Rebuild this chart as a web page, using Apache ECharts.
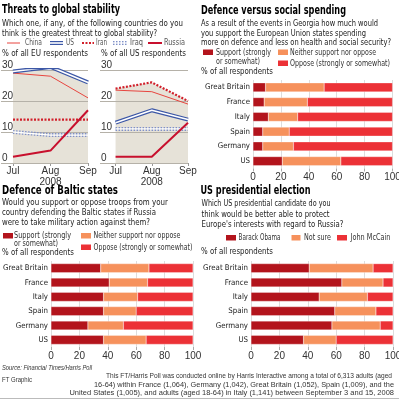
<!DOCTYPE html>
<html>
<head>
<meta charset="utf-8">
<script src="https://cdn.jsdelivr.net/npm/echarts@6/dist/echarts.min.js"></script>
<style>
  html, body { margin: 0; padding: 0; background: #fff; }
  #main { width: 399px; height: 400px; }
</style>
</head>
<body>
<div id="main"></div>
<script>
// line charts: % naming each country as greatest threat
var months = ["Jul", "Aug", "Sep"];
var year = "2008";
var euChina = [29, 28, 21];
var euUS = [29.5, 31, 26];
var euIran = [14, 14, 14];
var euIraq = [10, 9, 9];
var euRussia = [2, 4, 17];
var usChina = [23.5, 23, 19];
var usUS = [13, 17, 14];
var usIran = [24, 26, 20];
var usIraq = [11, 11, 11];
var usRussia = [2, 2, 13];

// bar charts
var countries = ["Great Britain", "France", "Italy", "Spain", "Germany", "US"];
var spendSupport = [9, 8, 11, 7, 7, 21];
var spendNeither = [42, 31, 21, 19, 22, 42];
var spendOppose = [49, 61, 68, 74, 71, 37];
var balticSupport = [35, 41, 37, 37, 26, 37];
var balticNeither = [34, 27, 24, 23, 25, 30];
var balticOppose = [31, 32, 39, 40, 49, 33];
var obama = [41, 64, 48, 59, 57, 37];
var notSure = [45, 29, 34, 29, 34, 23];
var mccain = [14, 7, 18, 12, 9, 40];

var COND = '"DejaVu Sans Condensed", sans-serif';
var SANS = '"Liberation Sans", Arial, sans-serif';
var DARK = "#b3141c", ORANGE = "#f6915c", RED = "#ec3136";
var BLUE = "#3c57a6", PALEBLUE = "#7f90c8", LRED = "#e8453f", FILL = "#e6e2d8";

// the original face is much narrower than anything installed, so texts get squeezed to width
var measureCtx = document.createElement("canvas").getContext("2d");
function textWidth(s, font) {
  measureCtx.font = font;
  return measureCtx.measureText(s).width;
}

var TITLE = { font: "bold 12px " + COND, color: "#000" };
var SUB = { font: "9.5px " + COND, color: "#222" };
var LEG = { font: "9px " + COND, color: "#333" };
var LLEG = { font: "9px " + COND, color: "#555" };
var NOTE = { font: "6.5px " + SANS, color: "#333" };
var SRC = { font: "italic 6.5px " + SANS, color: "#333" };

function txt(x, y, s, st, w, align) {
  var sx = w ? Math.min(1.15, w / textWidth(s, st.font)) : 1;
  return {
    type: "text", x: x, y: y, scaleX: sx, silent: true,
    style: { text: s, font: st.font, fill: st.color, align: align || "left", verticalAlign: "middle" }
  };
}
function rect(x, y, w, h, color) {
  return { type: "rect", shape: { x: x, y: y, width: w, height: h }, style: { fill: color }, silent: true };
}
function seg(x1, y1, x2, y2, style) {
  return { type: "line", shape: { x1: x1, y1: y1, x2: x2, y2: y2 }, style: style, silent: true };
}

// country labels: size chosen so "Great Britain" is about 45px wide
var catSize = Math.min(10, 45 / textWidth("Great Britain", "10px " + COND) * 10);

var chart = echarts.init(document.getElementById("main"));

function lineAxes(idx, min) {
  return {
    x: {
      gridIndex: idx, type: "value", min: min, max: 2,
      axisLine: { show: false }, splitLine: { show: false },
      axisTick: { show: true, customValues: [0, 1, 2], length: 3, lineStyle: { color: "#999" } },
      axisLabel: {
        customValues: [0, 1, 2], margin: 3, fontFamily: SANS, fontSize: 10, color: "#333", lineHeight: 11,
        formatter: function (v) { var m = months[Math.round(v)]; return v === 1 ? m + "\n" + year : m; }
      }
    },
    y: {
      gridIndex: idx, type: "value", min: 0, max: 30, interval: 10, z: 1.5,
      axisLine: { show: false }, axisTick: { show: false },
      splitLine: { lineStyle: { color: "#b5b1a8", width: 1 } },
      axisLabel: { inside: true, margin: 1, verticalAlign: "bottom", fontFamily: SANS, fontSize: 10, color: "#333" }
    }
  };
}

function lineSeries(idx, china, us, iran, iraq, russia, top) {
  var base = { type: "line", xAxisIndex: idx, yAxisIndex: idx, symbol: "none", silent: true };
  function s(data, ls, z, extra) {
    return Object.assign({}, base, { data: pts(data), lineStyle: ls, z: z }, extra || {});
  }
  return [
    s(top, { width: 0, opacity: 0 }, 1, { areaStyle: { color: FILL, opacity: 1 } }),
    s(iraq, { color: PALEBLUE, width: 4, type: [1.5, 1.5] }, 2),
    s(iraq, { color: "#fff", width: 1.3 }, 2.1),
    s(china, { color: LRED, width: 1 }, 2.2),
    s(us, { color: BLUE, width: 4 }, 2.3),
    s(us, { color: "#fff", width: 1.6 }, 2.4),
    s(iran, { color: "#d11f2a", width: 2.2, type: [2, 1.5] }, 2.5),
    s(russia, { color: "#c8102e", width: 2 }, 2.6)
  ];
}
function pts(arr) {
  return arr.map(function (v, i) { return [i, v]; });
}

function barAxes(idx) {
  return {
    x: {
      gridIndex: idx, type: "value", min: 0, max: 100, interval: 20,
      axisLine: { show: false },
      axisTick: { show: true, length: 3, lineStyle: { color: "#aaa" } },
      splitLine: { lineStyle: { color: "#ddd" } },
      axisLabel: { margin: 4, fontFamily: SANS, fontSize: 10, color: "#333" }
    },
    y: {
      gridIndex: idx, type: "category", data: countries, inverse: true,
      axisLine: { show: false }, axisTick: { show: false },
      axisLabel: { margin: 3, fontFamily: COND, fontSize: catSize, color: "#222" }
    }
  };
}

function barSeries(idx, a, b, c) {
  var st = "s" + idx;
  return [[a, DARK], [b, ORANGE], [c, RED]].map(function (p) {
    return {
      type: "bar", xAxisIndex: idx, yAxisIndex: idx, stack: st, barWidth: 9, silent: true,
      data: p[0], itemStyle: { color: p[1], borderColor: "#fff", borderWidth: 0.3 }
    };
  });
}

var la0 = lineAxes(0, -0.32), la1 = lineAxes(1, -0.43);
var ba2 = barAxes(2), ba3 = barAxes(3), ba4 = barAxes(4);

var graphics = [
  txt(2, 10, "Threats to global stability", TITLE, 118),
  txt(2, 24, "Which one, if any, of the following countries do you", SUB, 181),
  txt(2, 33.5, "think is the greatest threat to global stability?", SUB, 155),
  seg(7, 43, 20, 43, { stroke: LRED, lineWidth: 1 }),
  txt(25, 43, "China", LLEG, 17),
  seg(50, 43, 63, 43, { stroke: BLUE, lineWidth: 4 }),
  seg(50, 43, 63, 43, { stroke: "#fff", lineWidth: 1.6 }),
  txt(66, 43, "US", LLEG, 8),
  seg(82, 43, 94, 43, { stroke: "#d11f2a", lineWidth: 2.2, lineDash: [2, 1.5] }),
  txt(96, 43, "Iran", LLEG, 11),
  seg(113, 43, 127, 43, { stroke: PALEBLUE, lineWidth: 4, lineDash: [1.5, 1.5] }),
  seg(113, 43, 127, 43, { stroke: "#fff", lineWidth: 1.3 }),
  txt(130, 43, "Iraq", LLEG, 13),
  seg(148, 43, 162, 43, { stroke: "#c8102e", lineWidth: 2 }),
  txt(164, 43, "Russia", LLEG, 21),
  txt(2, 53.5, "% of all EU respondents", SUB, 86),
  txt(101, 53.5, "% of all US respondents", SUB, 85),

  txt(201, 11, "Defence versus social spending", TITLE, 145),
  txt(201, 24, "As a result of the events in Georgia how much would", SUB, 177),
  txt(201, 33.5, "you support the European Union states spending", SUB, 165),
  txt(201, 43, "more on defence and less on health and social security?", SUB, 190),
  rect(203, 49.5, 10, 5.5, DARK),
  txt(216, 52.3, "Support (strongly", LEG, 55),
  txt(216, 61.5, "or somewhat)", LEG, 44),
  rect(278, 49.5, 10, 5.5, ORANGE),
  txt(290, 52.3, "Neither support nor oppose", LEG, 86),
  rect(278, 60.5, 10, 5.5, RED),
  txt(290, 63.5, "Oppose (strongly or somewhat)", LEG, 100),
  txt(201, 72, "% of all respondents", SUB, 72),

  txt(2, 191, "Defence of Baltic states", TITLE, 116),
  txt(2, 202.5, "Would you support or oppose troops from your", SUB, 166),
  txt(2, 212.5, "country defending the Baltic states if Russia", SUB, 154),
  txt(2, 222.5, "were to take military action against them?", SUB, 148),
  rect(3, 233, 10, 5.5, DARK),
  txt(14, 235.7, "Support (strongly", LEG, 57),
  txt(14, 243.5, "or somewhat)", LEG, 44),
  rect(81, 233, 10, 5.5, ORANGE),
  txt(93.5, 235.7, "Neither support nor oppose", LEG, 87),
  rect(81, 244.5, 10, 5.5, RED),
  txt(93.5, 247.3, "Oppose (strongly or somewhat)", LEG, 99),
  txt(2, 252.5, "% of all respondents", SUB, 72),

  txt(200.5, 191, "US presidential election", TITLE, 110),
  txt(201.5, 203.5, "Which US presidential candidate do you", SUB, 129),
  txt(201.5, 214.5, "think would be better able to protect", SUB, 128),
  txt(201.5, 225, "Europe's interests with regard to Russia?", SUB, 142),
  rect(226, 235, 10, 5.5, DARK),
  txt(238.5, 237.7, "Barack Obama", LEG, 42),
  rect(291.5, 235, 9, 5.5, ORANGE),
  txt(304, 237.7, "Not sure", LEG, 27),
  rect(337, 235, 10, 5.5, RED),
  txt(350.5, 237.7, "John McCain", LEG, 40),
  txt(201, 252, "% of all respondents", SUB, 72),

  txt(2, 368.5, "Source: Financial Times/Harris Poll", SRC, 90),
  txt(2, 380.5, "FT Graphic", NOTE, 30),
  txt(392, 376, "This FT/Harris Poll was conducted online by Harris Interactive among a total of 6,313 adults (aged", NOTE, 286, "right"),
  txt(394, 385, "16-64) within France (1,064), Germany (1,042), Great Britain (1,052), Spain (1,009), and the", NOTE, 300, "right"),
  txt(394, 393.5, "United States (1,005), and adults (aged 18-64) in Italy (1,141) between September 3 and 15, 2008", NOTE, 327, "right"),
  seg(0, 398.5, 399, 398.5, { stroke: "#bbb", lineWidth: 1 })
];

var option = {
  animation: false,
  grid: [
    { left: 1, top: 70, width: 87, height: 93, outerBoundsMode: "none" },
    { left: 100, top: 70, width: 88, height: 93, outerBoundsMode: "none" },
    { left: 253, top: 80, width: 139.5, height: 88.5, outerBoundsMode: "none" },
    { left: 51, top: 261, width: 142, height: 86, outerBoundsMode: "none" },
    { left: 251, top: 261, width: 142, height: 86, outerBoundsMode: "none" }
  ],
  xAxis: [la0.x, la1.x, ba2.x, ba3.x, ba4.x],
  yAxis: [la0.y, la1.y, ba2.y, ba3.y, ba4.y],
  series: []
    .concat(lineSeries(0, euChina, euUS, euIran, euIraq, euRussia, euUS))
    .concat(lineSeries(1, usChina, usUS, usIran, usIraq, usRussia, usIran))
    .concat(barSeries(2, spendSupport, spendNeither, spendOppose))
    .concat(barSeries(3, balticSupport, balticNeither, balticOppose))
    .concat(barSeries(4, obama, notSure, mccain)),
  graphic: graphics
};

chart.setOption(option);
</script>
</body>
</html>
